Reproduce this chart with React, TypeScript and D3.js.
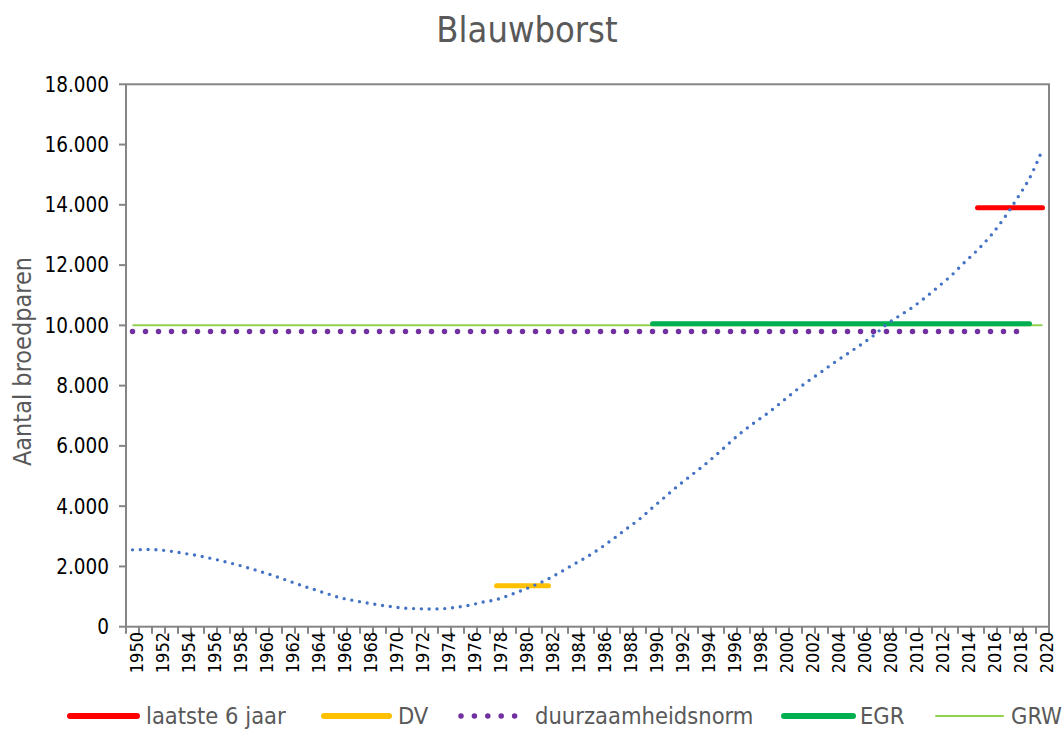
import * as d3 from 'd3';

// categories
const years = d3.range(1950, 2021);
const yTicks = [0, 2000, 4000, 6000, 8000, 10000, 12000, 14000, 16000, 18000];

// trend (blue dotted, smoothed)
const trend = [
  2550, 2560, 2550, 2500, 2430, 2360, 2270, 2170, 2060, 1940,
  1810, 1670, 1520, 1370, 1230, 1090, 960, 870, 790, 720,
  660, 615, 595, 590, 600, 650, 720, 820, 900, 1050,
  1210, 1390, 1590, 1830, 2085, 2330, 2610, 2920, 3250, 3570,
  3950, 4320, 4690, 5030, 5370, 5740, 6130, 6500, 6820, 7130,
  7480, 7830, 8160, 8460, 8770, 9060, 9350, 9660, 10030, 10320,
  10600, 10930, 11290, 11660, 12090, 12500, 12970, 13530, 14180, 14880,
  15840,
];

// horizontal reference series: [startYear, endYear], value
const laatste6Span = [2015, 2020];
const laatste6Value = 13900;
const dvSpan = [1978, 1982];
const dvValue = 1360;
const normSpan = [1950, 2019];
const normValue = 9800;
const egrSpan = [1990, 2019];
const egrValue = 10050;
const grwSpan = [1950, 2020];
const grwValue = 10000;

const legendItems = ['laatste 6 jaar', 'DV', 'duurzaamheidsnorm', 'EGR', 'GRW'];

const W = 1064;
const H = 754;
const left = 126;
const right = 1049;
const top = 84.3;
const bottom = 626.7;

const font = '"DejaVu Sans Condensed", "DejaVu Sans", sans-serif';
const grey = '#595959';
const axisColor = '#858585';

export default function App() {
  const x = d3.scaleBand<number>().domain(years).range([left, right]).padding(0);
  const bw = x.bandwidth();
  const cx = (yr: number) => (x(yr) as number) + bw / 2;
  const y = d3.scaleLinear().domain([0, 18000]).range([bottom, top]);

  const trendLine = d3
    .line<number>()
    .x((_, i) => cx(years[i]))
    .y((d) => y(d))
    .curve(d3.curveCatmullRom.alpha(0.5));

  const flat = (span: number[], v: number) =>
    d3.line<number>().x((d) => cx(d)).y(() => y(v))(span) as string;

  const fmt = (v: number) => (v === 0 ? '0' : d3.format(',')(v).replace(/,/g, '.'));

  // legend geometry
  const legY = 716;
  const legend = [
    { x1: 70, x2: 137, color: '#FF0000', w: 6, dash: null, tx: 146 },
    { x1: 324, x2: 389, color: '#FFC000', w: 6, dash: null, tx: 398 },
    { x1: 461, x2: 526, color: '#7030A0', w: 5.5, dash: '0 13.4', tx: 535 },
    { x1: 784, x2: 853, color: '#00B050', w: 6, dash: null, tx: 860 },
    { x1: 936, x2: 1003, color: '#92D050', w: 2, dash: null, tx: 1011 },
  ];

  return (
    <div style={{ position: 'fixed', left: 0, top: 0 }}>
      <svg width={W} height={H} style={{ display: 'block', background: '#fff' }} fontFamily={font}>
        {/* title */}
        <text x={527} y={42} textAnchor="middle" fontSize={36} fill={grey}>
          Blauwborst
        </text>

        {/* y axis title */}
        <text
          transform={`translate(31, ${(top + bottom) / 2 + 6}) rotate(-90)`}
          textAnchor="middle"
          fontSize={25}
          fill={grey}
        >
          Aantal broedparen
        </text>

        {/* plot frame */}
        <rect x={left} y={top} width={right - left} height={bottom - top} fill="none" stroke={axisColor} strokeWidth={2} />

        {/* y ticks */}
        {yTicks.map((t) => (
          <g key={t}>
            <line x1={left - 7} x2={left} y1={y(t)} y2={y(t)} stroke={axisColor} strokeWidth={2} />
            <text x={109} y={y(t)} dy="0.36em" textAnchor="end" fontSize={20.5} fill="#000">
              {fmt(t)}
            </text>
          </g>
        ))}

        {/* x ticks */}
        {years.concat([2021]).map((yr, i) => {
          const xx = i < years.length ? (x(yr) as number) : right;
          return <line key={yr} x1={xx} x2={xx} y1={bottom} y2={bottom + 7} stroke={axisColor} strokeWidth={2} />;
        })}
        {years
          .filter((yr) => yr % 2 === 0)
          .map((yr) => (
            <text
              key={yr}
              transform={`translate(${cx(yr) + 4}, 632) rotate(-90)`}
              dy="0.36em"
              textAnchor="end"
              fontSize={18}
              fill="#000"
            >
              {yr}
            </text>
          ))}

        {/* GRW */}
        <path d={flat(grwSpan, grwValue)} fill="none" stroke="#92D050" strokeWidth={2} />
        {/* duurzaamheidsnorm */}
        <path
          d={flat(normSpan, normValue)}
          fill="none"
          stroke="#7030A0"
          strokeWidth={5.5}
          strokeLinecap="round"
          strokeDasharray={`0 ${bw}`}
        />
        {/* EGR */}
        <path d={flat(egrSpan, egrValue)} fill="none" stroke="#00B050" strokeWidth={5} strokeLinecap="round" />
        {/* DV */}
        <path d={flat(dvSpan, dvValue)} fill="none" stroke="#FFC000" strokeWidth={5} strokeLinecap="round" />
        {/* laatste 6 jaar */}
        <path d={flat(laatste6Span, laatste6Value)} fill="none" stroke="#FF0000" strokeWidth={5} strokeLinecap="round" />
        {/* trend */}
        <path
          d={trendLine(trend) as string}
          fill="none"
          stroke="#4472C4"
          strokeWidth={3.4}
          strokeLinecap="round"
          strokeDasharray="0 7.8"
        />

        {/* legend */}
        {legend.map((l, i) => (
          <g key={legendItems[i]}>
            <line
              x1={l.x1}
              x2={l.x2}
              y1={legY}
              y2={legY}
              stroke={l.color}
              strokeWidth={l.w}
              strokeLinecap="round"
              strokeDasharray={l.dash ?? undefined}
            />
            <text x={l.tx} y={legY} dy="0.36em" fontSize={23.5} fill={grey}>
              {legendItems[i]}
            </text>
          </g>
        ))}
      </svg>
    </div>
  );
}
